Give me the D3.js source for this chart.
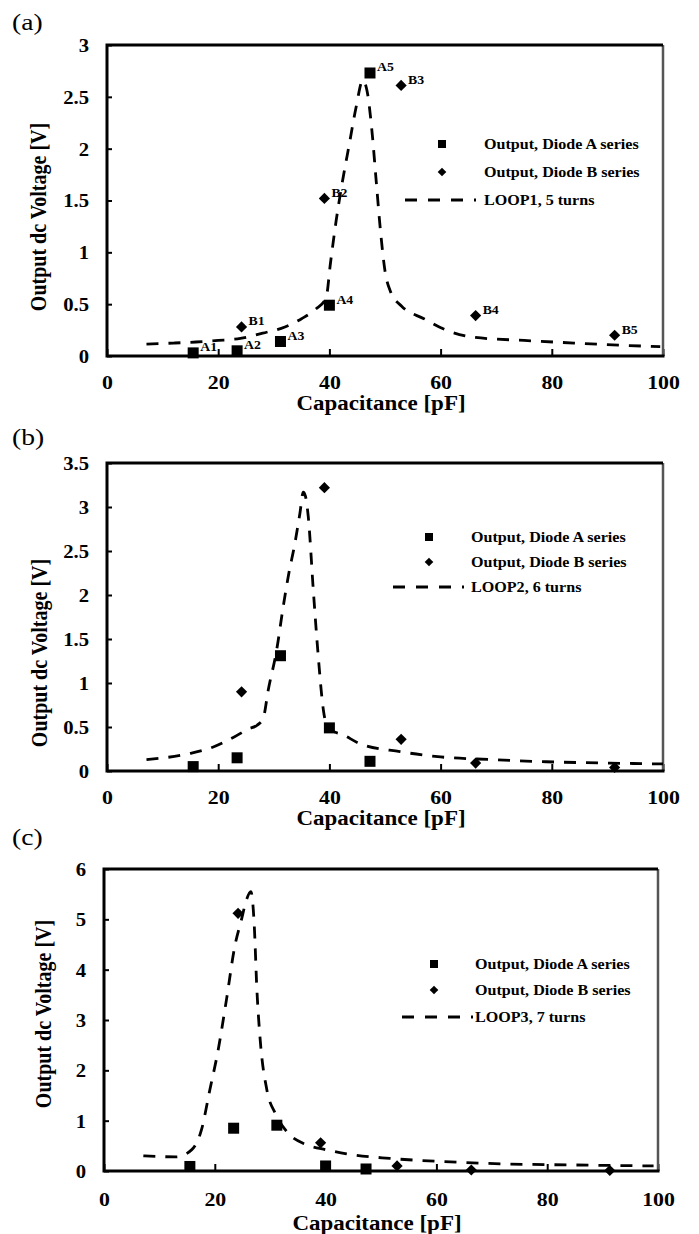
<!DOCTYPE html>
<html><head><meta charset="utf-8">
<script src="https://cdn.jsdelivr.net/npm/d3@7"></script>
<style>
body{margin:0;background:#fff;}
svg{display:block;font-family:"Liberation Serif","Times New Roman",serif;}
</style></head><body>
<svg id="fig" width="699" height="1234"></svg>
<script>
// Capacitor settings for the two diode series (pF)
const capA = [15.5, 23.4, 31.2, 40.0, 47.3];
const capB = [24.2, 39.1, 52.9, 66.3, 91.3];
const labelsA = ["A1", "A2", "A3", "A4", "A5"];
const labelsB = ["B1", "B2", "B3", "B4", "B5"];

// Measured output dc voltage (V) per loop antenna
const loop1DiodeA = [0.03, 0.05, 0.14, 0.49, 2.73];
const loop1DiodeB = [0.28, 1.52, 2.61, 0.39, 0.20];
const loop2DiodeA = [0.05, 0.15, 1.31, 0.49, 0.11];
const loop2DiodeB = [0.90, 3.22, 0.36, 0.09, 0.04];
const loop3DiodeA = [0.09, 0.85, 0.91, 0.10, 0.04];
const loop3DiodeB = [5.12, 0.56, 0.10, 0.02, 0.01];

// Simulated response curves: [capacitance pF, voltage V]
const loop1Curve = [[7.1,0.115],[12,0.125],[16,0.135],[20,0.15],[24,0.17],[28,0.22],[32,0.28],[35,0.36],[37.5,0.45],[39.4,0.56],[40.2,0.9],[41.2,1.3],[42.4,1.7],[43.6,2.05],[44.8,2.4],[46,2.66],[46.8,2.55],[47.6,2.2],[48.4,1.7],[49.2,1.2],[50,0.82],[51,0.62],[53,0.48],[57,0.36],[61,0.25],[66,0.18],[75,0.15],[84,0.125],[92,0.105],[99.5,0.09]];
const loop2Curve = [[7.1,0.13],[15,0.2],[19,0.27],[22.7,0.38],[25.5,0.48],[27,0.52],[28.1,0.6],[29,0.92],[30.5,1.37],[31.7,1.87],[32.6,2.21],[33.8,2.59],[34.7,2.93],[35.3,3.17],[35.7,3.12],[36.2,2.89],[37.1,2.06],[38,1.3],[38.9,0.7],[39.8,0.48],[42.5,0.41],[45.5,0.31],[52.7,0.22],[60,0.16],[69,0.13],[79,0.105],[90,0.09],[100,0.08]];
const loop3Curve = [[7.1,0.30],[13,0.28],[15.8,0.42],[17.6,0.82],[19.1,1.61],[20.6,2.4],[22.1,3.4],[23.6,4.46],[24.8,4.99],[25.7,5.38],[26.5,5.55],[27.1,4.93],[27.6,3.6],[28.2,2.6],[29.4,1.61],[30.9,1.15],[33,0.78],[36.6,0.52],[40.2,0.42],[43.8,0.34],[51.6,0.25],[60.6,0.19],[72.7,0.14],[84.7,0.12],[99.2,0.10]];

// Axis ticks
const xTicks = [0, 20, 40, 60, 80, 100];
const yTicks1 = [0, 0.5, 1, 1.5, 2, 2.5, 3];
const yTicks2 = [0, 0.5, 1, 1.5, 2, 2.5, 3, 3.5];
const yTicks3 = [0, 1, 2, 3, 4, 5, 6];

const legendA = "Output, Diode A series";
const legendB = "Output, Diode B series";
const loopNames = ["LOOP1, 5 turns", "LOOP2, 6 turns", "LOOP3, 7 turns"];
const panelTags = ["(a)", "(b)", "(c)"];
const xTitle = "Capacitance [pF]";
const yTitle = "Output dc Voltage [V]";

// Panel layout
const SX = 1.15; // horizontal text widening
const panels = [
  {tag: panelTags[0], name: loopNames[0], a: loop1DiodeA, b: loop1DiodeB, curve: loop1Curve, yTicks: yTicks1, yMax: 3,
   L: 107, R: 663, T: 45, B: 356, tagY: 30, xLabY: 389, xTitleY: 410, yTitleX: 46, yTitleY: 217,
   leg: {mx: 442, tx: 484, lx0: 405, lx1: 476, rows: [144, 172, 200]}, pointLabels: true},
  {tag: panelTags[1], name: loopNames[1], a: loop2DiodeA, b: loop2DiodeB, curve: loop2Curve, yTicks: yTicks2, yMax: 3.5,
   L: 107, R: 663, T: 463, B: 771, tagY: 445, xLabY: 804, xTitleY: 825, yTitleX: 47, yTitleY: 653,
   leg: {mx: 429, tx: 471, lx0: 393, lx1: 464, rows: [537, 562, 587]}, pointLabels: false},
  {tag: panelTags[2], name: loopNames[2], a: loop3DiodeA, b: loop3DiodeB, curve: loop3Curve, yTicks: yTicks3, yMax: 6,
   L: 104, R: 658, T: 869, B: 1171, tagY: 845, xLabY: 1206, xTitleY: 1230, yTitleX: 51, yTitleY: 1014,
   leg: {mx: 434, tx: 475, lx0: 402, lx1: 473, rows: [964, 990, 1017]}, pointLabels: false}
];

const svg = d3.select("#fig");
const sq = 11, dm = 5.6;
const diamond = r => `M0,${-r}L${r},0L0,${r}L${-r},0Z`;

panels.forEach(p => {
  const x = d3.scaleLinear().domain([0, 100]).range([p.L, p.R]);
  const y = d3.scaleLinear().domain([0, p.yMax]).range([p.B, p.T]);
  const g = svg.append("g");

  // panel tag
  g.append("text").attr("transform", `translate(12,${p.tagY}) scale(${SX},1)`)
    .attr("font-size", 24).text(p.tag);

  // y axis (ticks inward)
  const ya = g.append("g").attr("transform", `translate(${p.L},0)`)
    .call(d3.axisLeft(y).tickValues(p.yTicks).tickFormat(d => String(d)).tickSizeInner(-5).tickSizeOuter(0));
  ya.select(".domain").remove();
  ya.selectAll(".tick line").attr("stroke", "#000").attr("stroke-width", 2);
  ya.selectAll(".tick text").attr("x", -18 / SX).attr("dy", "0.36em")
    .attr("transform", `scale(${SX},1)`).attr("font-size", 18).attr("font-weight", "bold")
    .attr("font-family", "Liberation Serif, serif").attr("fill", "#000");

  // x axis (ticks inward)
  const xa = g.append("g").attr("transform", `translate(0,${p.B})`)
    .call(d3.axisBottom(x).tickValues(xTicks).tickSizeInner(-7).tickSizeOuter(0));
  xa.select(".domain").remove();
  xa.selectAll(".tick line").attr("stroke", "#000").attr("stroke-width", 2);
  xa.selectAll(".tick text").attr("y", p.xLabY - p.B).attr("dy", 0)
    .attr("transform", `scale(${SX},1)`).attr("font-size", 19).attr("font-weight", "bold")
    .attr("font-family", "Liberation Serif, serif").attr("fill", "#000");

  // frame
  g.append("line").attr("x1", p.R).attr("x2", p.R).attr("y1", p.T).attr("y2", p.B)
    .attr("stroke", "#555").attr("stroke-width", 2.5);
  g.append("path").attr("d", `M${p.R},${p.T}H${p.L}V${p.B}H${p.R + 1.5}`)
    .attr("fill", "none").attr("stroke", "#000").attr("stroke-width", 3);

  // axis titles
  g.append("text").attr("transform", `translate(${(p.L + p.R) / 2 - 4},${p.xTitleY}) scale(${SX},1)`)
    .attr("text-anchor", "middle").attr("font-size", 20).attr("font-weight", "bold").text(xTitle);
  g.append("text").attr("transform", `translate(${p.yTitleX},${p.yTitleY}) rotate(-90) scale(1,${SX})`)
    .attr("text-anchor", "middle").attr("font-size", 20).attr("font-weight", "bold").text(yTitle);

  // simulated curve
  const line = d3.line().x(d => x(d[0])).y(d => y(d[1])).curve(d3.curveMonotoneX);
  g.append("path").datum(p.curve).attr("d", line).attr("fill", "none")
    .attr("stroke", "#000").attr("stroke-width", 2.8).attr("stroke-dasharray", "12,10");

  // measured points
  const ptsA = capA.map((c, i) => ({c, v: p.a[i], lab: labelsA[i]}));
  const ptsB = capB.map((c, i) => ({c, v: p.b[i], lab: labelsB[i]}));
  g.selectAll(".sqA").data(ptsA).join("rect")
    .attr("x", d => x(d.c) - sq / 2).attr("y", d => y(d.v) - sq / 2)
    .attr("width", sq).attr("height", sq).attr("fill", "#000");
  g.selectAll(".dmB").data(ptsB).join("path")
    .attr("transform", d => `translate(${x(d.c)},${y(d.v)})`).attr("d", diamond(dm)).attr("fill", "#000");

  if (p.pointLabels) {
    g.selectAll(".labA").data(ptsA.concat(ptsB)).join("text")
      .attr("transform", d => `translate(${x(d.c) + 7},${y(d.v) - 1.5}) scale(${SX},1)`)
      .attr("font-size", 12).attr("font-weight", "bold").text(d => d.lab);
  }

  // legend
  const lg = p.leg;
  g.append("rect").attr("x", lg.mx - 4).attr("y", lg.rows[0] - 4).attr("width", 8).attr("height", 8).attr("fill", "#000");
  g.append("path").attr("transform", `translate(${lg.mx},${lg.rows[1]})`).attr("d", diamond(4.3)).attr("fill", "#000");
  g.append("line").attr("x1", lg.lx0).attr("x2", lg.lx1).attr("y1", lg.rows[2]).attr("y2", lg.rows[2])
    .attr("stroke", "#000").attr("stroke-width", 2.8).attr("stroke-dasharray", "12,11");
  [legendA, legendB, p.name].forEach((t, i) => {
    g.append("text").attr("transform", `translate(${lg.tx},${lg.rows[i] + 5}) scale(${SX},1)`)
      .attr("font-size", 14).attr("font-weight", "bold").text(t);
  });
});
</script>
</body></html>
